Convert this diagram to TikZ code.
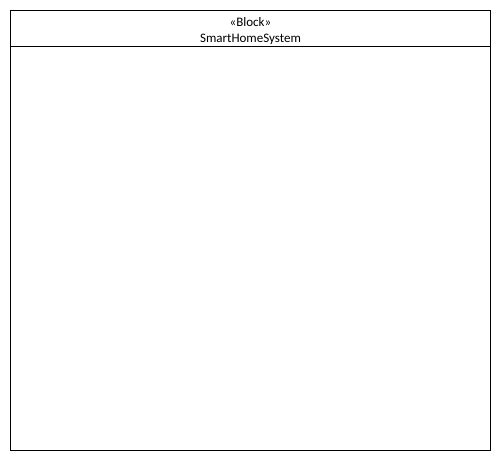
\documentclass[tikz,border=0pt]{standalone}
\usepackage{fontspec}
\setmainfont{Carlito}
\tikzset{
  blockframe/.style={draw=black,line width=1pt},
  blocktext/.style={inner sep=0pt,anchor=center,font=\fontsize{13}{15}\selectfont}
}
\begin{document}
\begin{tikzpicture}[x=1pt,y=-1pt]
    \useasboundingbox (0,0) rectangle (501,461);
    \coordinate (tl) at ( 10.5, 10.5);
    \coordinate (br) at (490.5,450.5);
    \coordinate (hl) at ( 10.5, 46.5);
    \coordinate (hr) at (490.5, 46.5);
    \draw[blockframe] (tl) rectangle (br);
    \draw[blockframe] (hl) -- (hr);
    \node[blocktext] (stereo) at (250.5,22) {«Block»};
    \node[blocktext] (name)   at (250.5,39) {SmartHomeSystem};
  \end{tikzpicture}
\end{document}
